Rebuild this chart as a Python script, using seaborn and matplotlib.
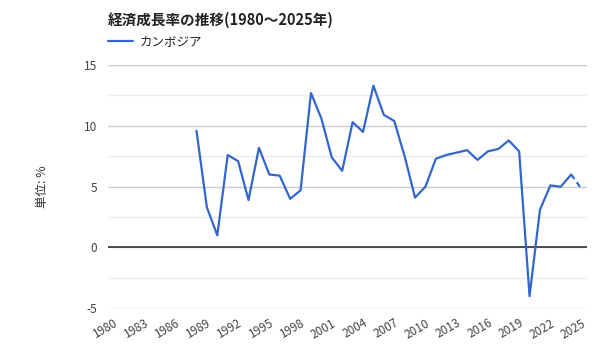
import matplotlib
matplotlib.use("Agg")
import matplotlib.pyplot as plt
import seaborn as sns
import pandas as pd
import numpy as np
from matplotlib.ticker import MultipleLocator

sns.set_style("white")
plt.rcParams['font.family'] = ['Noto Sans CJK JP', 'DejaVu Sans']
plt.rcParams['axes.unicode_minus'] = False

title = "経済成長率の推移(1980～2025年)"
series_name = "カンボジア"
ylabel = "単位: %"

years = list(range(1988, 2026))
growth = [9.6, 3.3, 1.0, 7.6, 7.1, 3.9, 8.2, 6.0, 5.9, 4.0,
          4.7, 12.7, 10.6, 7.4, 6.3, 10.3, 9.5, 13.3, 10.9, 10.4,
          7.5, 4.1, 5.0, 7.3, 7.6, 7.8, 8.0, 7.2, 7.9, 8.1,
          8.8, 7.9, -4.0, 3.1, 5.1, 5.0, 6.0, 4.8]
xticks = list(range(1980, 2026, 3))
yticks = [-5, 0, 5, 10, 15]

df = pd.DataFrame({"year": years, "value": growth})
solid = df[df.year <= 2024]
proj = df[df.year >= 2024]

fig = plt.figure(figsize=(6, 3.6), dpi=100)
ax = fig.add_axes([0.18, 0.1436, 0.798, 0.6758])

color = "#3366CC"
sns.lineplot(data=solid, x="year", y="value", ax=ax, color=color, linewidth=1.6,
             label=series_name)
sns.lineplot(data=proj, x="year", y="value", ax=ax, color=color, linewidth=1.6,
             linestyle=(0, (2.5, 1.8)), legend=False)

ax.set_xlim(1979.5, 2025.5)
ax.set_ylim(-5, 15)
ax.set_xticks(xticks)
ax.set_yticks(yticks)
ax.yaxis.set_minor_locator(MultipleLocator(2.5))
ax.grid(axis='y', which='major', color='#cccccc', linewidth=1)
ax.grid(axis='y', which='minor', color='#ebebeb', linewidth=1)
ax.grid(axis='x', visible=False)
ax.axhline(0, color='#333333', linewidth=1.2, zorder=1)
for s in ax.spines.values():
    s.set_visible(False)
ax.tick_params(axis='both', length=0, labelsize=8.5, labelcolor='#444444')
ax.tick_params(axis='y', pad=8)
ax.tick_params(axis='x', pad=6)
for lbl in ax.get_xticklabels():
    lbl.set_rotation(30)
    lbl.set_ha('right')
    lbl.set_rotation_mode('anchor')
ax.set_xlabel("")
ax.set_ylabel(ylabel, fontsize=9, color='#333333', labelpad=25)

fig.text(0.18, 0.944, title, fontsize=10.5, fontweight='bold', color='#222222',
         ha='left', va='center')
leg = ax.legend(loc='center left', bbox_to_anchor=(0.0, 1.095), frameon=False,
                fontsize=9, handlelength=2.0, handletextpad=0.5, borderaxespad=0,
                borderpad=0)
for t in leg.get_texts():
    t.set_color('#222222')

fig.savefig("out.png", dpi=100)
